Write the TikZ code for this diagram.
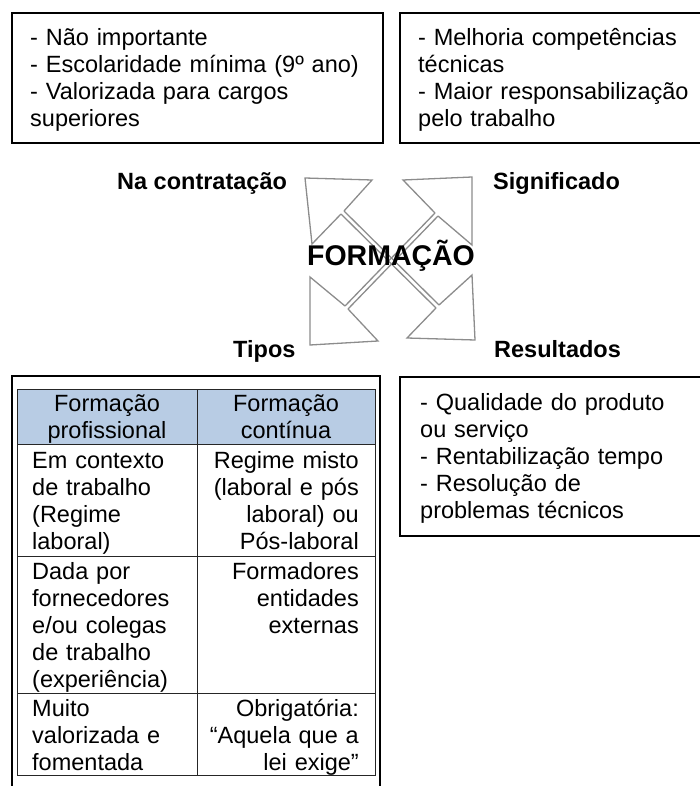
\documentclass[tikz,border=0pt]{standalone}
\usepackage{fontspec}
\setmainfont{Liberation Sans}
\definecolor{hdrblue}{HTML}{B8CCE4}
\definecolor{arrowgray}{HTML}{8C8C8C}
\begin{document}
\begin{tikzpicture}[x=1pt,y=-1pt,
  outerbox/.style={draw=black, line width=1.6pt},
  tblline/.style={draw=black!85, line width=1pt},
  arrowline/.style={draw=arrowgray, line width=1.3pt, line join=miter},
  bodytxt/.style={inner sep=0pt, text width=360pt, align=left, font=\fontsize{23.5}{27}\selectfont},
  righttxt/.style={inner sep=0pt, text width=200pt, align=right, font=\fontsize{23.5}{27}\selectfont},
  centertxt/.style={inner sep=0pt, text width=200pt, align=center, font=\fontsize{23.5}{27}\selectfont},
  lbl/.style={inner sep=0pt, font=\bfseries\fontsize{23.5}{27}\selectfont},
  centrelbl/.style={inner sep=0pt, font=\bfseries\fontsize{28.5}{32}\selectfont}
]
\useasboundingbox (0,0) rectangle (700,786);

% ---- top boxes ----
\draw[outerbox] (12,13) rectangle (383,143);
\draw[outerbox] (400,13) rectangle (712,143);
\node[bodytxt, anchor=base west] (contr) at (30,46)
  {- Não importante\\- Escolaridade mínima (9º ano)\\- Valorizada para cargos\\superiores};
\node[bodytxt, anchor=base west] (signif) at (418,46)
  {- Melhoria competências\\técnicas\\- Maior responsabilização\\pelo trabalho};

% ---- arrows ----
% shafts
\draw[arrowline] (344,211) -- (439,305);
\draw[arrowline] (341,214) -- (436,308);
\draw[arrowline] (435,213) -- (345,306);
\draw[arrowline] (438,216) -- (348,309);
% heads
\draw[arrowline] (344,211) -- (372,180) -- (305,178) -- (312,244) -- (341,214);
\draw[arrowline] (435,213) -- (403,180) -- (472,177) -- (472,245) -- (438,216);
\draw[arrowline] (345,306) -- (310,277) -- (310,345) -- (378,341) -- (348,309);
\draw[arrowline] (439,305) -- (472,275) -- (475,340) -- (407,338) -- (436,308);

\node[centrelbl, anchor=base] (form) at (391,265) {FORMAÇÃO};

% ---- labels ----
\node[lbl, anchor=base west] (lcontr) at (117,190) {Na contratação};
\node[lbl, anchor=base west] (lsignif) at (493,190) {Significado};
\node[lbl, anchor=base west] (ltipos) at (233,357) {Tipos};
\node[lbl, anchor=base west] (lresult) at (494,357) {Resultados};

% ---- bottom right box ----
\draw[outerbox] (400,377) rectangle (712,536);
\node[bodytxt, anchor=base west] (result) at (420,410)
  {- Qualidade do produto\\ou serviço\\- Rentabilização tempo\\- Resolução de\\problemas técnicos};

% ---- bottom left box with table ----
\draw[outerbox] (12,376) rectangle (380,800);
\fill[hdrblue] (17,389) rectangle (375,444);
\draw[tblline] (17,389) rectangle (375,775);
\draw[tblline] (17,444) -- (375,444);
\draw[tblline] (17,556) -- (375,556);
\draw[tblline] (17,693) -- (375,693);
\draw[tblline] (197,389) -- (197,775);

\node[centertxt, anchor=base] (h1) at (107,411) {Formação\\profissional};
\node[centertxt, anchor=base] (h2) at (286,411) {Formação\\contínua};

\node[bodytxt, anchor=base west] (r1a) at (32,468)
  {Em contexto\\de trabalho\\(Regime\\laboral)};
\node[righttxt, anchor=base east] (r1b) at (359,468)
  {Regime misto\\(laboral e pós\\laboral) ou\\Pós-laboral};
\node[bodytxt, anchor=base west] (r2a) at (32,579)
  {Dada por\\fornecedores\\e/ou colegas\\de trabalho\\(experiência)};
\node[righttxt, anchor=base east] (r2b) at (359,579)
  {Formadores\\entidades\\externas};
\node[bodytxt, anchor=base west] (r3a) at (32,716)
  {Muito\\valorizada e\\fomentada};
\node[righttxt, anchor=base east] (r3b) at (359,716)
  {Obrigatória:\\“Aquela que a\\lei exige”};
\end{tikzpicture}
\end{document}
